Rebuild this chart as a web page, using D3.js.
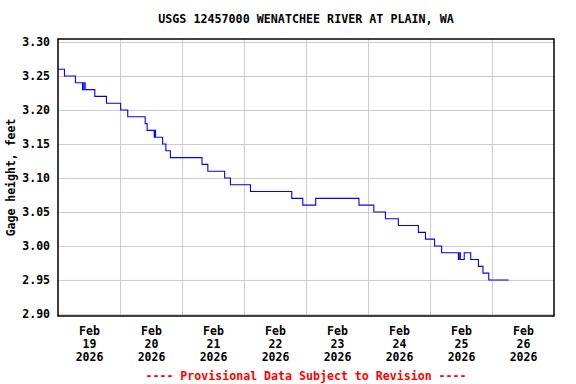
<!DOCTYPE html>
<html>
<head>
<meta charset="utf-8">
<script src="https://cdn.jsdelivr.net/npm/d3@7"></script>
<style>
  body { margin: 0; background: #fff; }
  text { font-family: "DejaVu Sans Mono", "Liberation Mono", monospace; font-weight: bold; }
</style>
</head>
<body>
<div id="chart"></div>
<script>
// gage height readings, only the points where the value steps
var stepTimes = [
  "2026-02-19 00:00", "2026-02-19 02:30", "2026-02-19 06:45", "2026-02-19 09:30",
  "2026-02-19 10:00", "2026-02-19 10:30", "2026-02-19 14:15", "2026-02-19 18:45",
  "2026-02-20 00:15", "2026-02-20 03:00", "2026-02-20 09:45", "2026-02-20 10:30",
  "2026-02-20 13:15", "2026-02-20 13:30", "2026-02-20 13:45", "2026-02-20 16:30",
  "2026-02-20 17:45", "2026-02-20 19:30", "2026-02-21 07:45", "2026-02-21 10:00",
  "2026-02-21 16:30", "2026-02-21 18:45", "2026-02-22 02:30", "2026-02-22 18:30",
  "2026-02-22 22:45", "2026-02-23 03:45", "2026-02-23 20:30", "2026-02-24 02:15",
  "2026-02-24 06:45", "2026-02-24 11:45", "2026-02-24 19:30", "2026-02-24 22:15",
  "2026-02-25 01:45", "2026-02-25 04:30", "2026-02-25 11:00", "2026-02-25 11:15",
  "2026-02-25 11:45", "2026-02-25 13:15", "2026-02-25 15:45", "2026-02-25 18:45",
  "2026-02-25 20:30", "2026-02-25 22:45", "2026-02-26 06:30"
];
var stepValues = [
  3.26, 3.25, 3.24, 3.23,
  3.24, 3.23, 3.22, 3.21,
  3.20, 3.19, 3.18, 3.17,
  3.16, 3.17, 3.16, 3.15,
  3.14, 3.13, 3.12, 3.11,
  3.10, 3.09, 3.08, 3.07,
  3.06, 3.07, 3.06, 3.05,
  3.04, 3.03, 3.02, 3.01,
  3.00, 2.99, 2.98, 2.99,
  2.98, 2.99, 2.98, 2.97,
  2.96, 2.95, 2.95
];
var yTicks = [2.90, 2.95, 3.00, 3.05, 3.10, 3.15, 3.20, 3.25, 3.30];
var dayLabels = ["19", "20", "21", "22", "23", "24", "25", "26"];

var svgWidth = 576;
var svgHeight = 384;
var margin = { top: 39, right: 22, bottom: 68, left: 58 };
var width = svgWidth - margin.left - margin.right;
var height = svgHeight - margin.top - margin.bottom;

var parseTime = d3.timeParse("%Y-%m-%d %H:%M");
var data = stepTimes.map(function(t, i) {
  return { date: parseTime(t), value: stepValues[i] };
});

var svg = d3.select("#chart")
  .append("svg")
  .attr("width", svgWidth)
  .attr("height", svgHeight);

var chartGroup = svg.append("g")
  .attr("transform", `translate(${margin.left}, ${margin.top})`);

var xScale = d3.scaleTime()
  .domain([parseTime("2026-02-19 00:00"), parseTime("2026-02-27 00:00")])
  .range([0, width]);

var yScale = d3.scaleLinear()
  .domain([2.897, 3.3044])
  .range([height, 0]);

// grid lines
var midnights = d3.timeDay.range(parseTime("2026-02-20 00:00"), parseTime("2026-02-27 00:00"));
chartGroup.append("g")
  .attr("class", "grid")
  .call(d3.axisBottom(xScale).tickValues(midnights).tickSize(height).tickFormat(""))
  .call(g => g.select(".domain").remove())
  .call(g => g.selectAll("line").attr("stroke", "#cccccc"));

chartGroup.append("g")
  .attr("class", "grid")
  .call(d3.axisLeft(yScale).tickValues(yTicks).tickSize(-width).tickFormat(""))
  .call(g => g.select(".domain").remove())
  .call(g => g.selectAll("line").attr("stroke", "#cccccc"));

// y tick labels
chartGroup.append("g")
  .call(d3.axisLeft(yScale).tickValues(yTicks).tickSize(0).tickPadding(8).tickFormat(d3.format(".2f")))
  .call(g => g.select(".domain").remove())
  .call(g => g.selectAll("text").attr("font-size", "11.5px").attr("fill", "#000"));

// x tick labels at noon of each day
var noons = dayLabels.map(d => parseTime("2026-02-" + d + " 12:00"));
var xAxis = chartGroup.append("g")
  .attr("transform", `translate(0, ${height})`)
  .call(d3.axisBottom(xScale).tickValues(noons).tickSize(0).tickFormat(""))
  .call(g => g.select(".domain").remove());

xAxis.selectAll(".tick text").remove();
xAxis.selectAll(".tick").append("text")
  .attr("fill", "#000")
  .attr("font-size", "11.5px")
  .attr("text-anchor", "middle")
  .selectAll("tspan")
  .data((d, i) => ["Feb", dayLabels[i], "2026"])
  .enter().append("tspan")
  .attr("x", 0)
  .attr("y", (d, i) => 19 + i * 13)
  .text(d => d);

// gage height line
var line = d3.line()
  .curve(d3.curveStepAfter)
  .x(d => xScale(d.date))
  .y(d => yScale(d.value));

chartGroup.append("path")
  .datum(data)
  .attr("fill", "none")
  .attr("stroke", "#0000ff")
  .attr("stroke-width", 1.1)
  .attr("d", line);

// frame
chartGroup.append("rect")
  .attr("width", width)
  .attr("height", height)
  .attr("fill", "none")
  .attr("stroke", "#000")
  .attr("stroke-width", 1.5);

// titles
svg.append("text")
  .attr("x", margin.left + width / 2)
  .attr("y", 23)
  .attr("text-anchor", "middle")
  .attr("font-size", "11.7px")
  .text("USGS 12457000 WENATCHEE RIVER AT PLAIN, WA");

svg.append("text")
  .attr("transform", `translate(15, ${margin.top + height / 2}) rotate(-90)`)
  .attr("text-anchor", "middle")
  .attr("font-size", "11.5px")
  .text("Gage height, feet");

svg.append("text")
  .attr("x", margin.left + width / 2)
  .attr("y", 380)
  .attr("text-anchor", "middle")
  .attr("font-size", "11.6px")
  .attr("fill", "#ff0000")
  .text("---- Provisional Data Subject to Revision ----");
</script>
</body>
</html>
